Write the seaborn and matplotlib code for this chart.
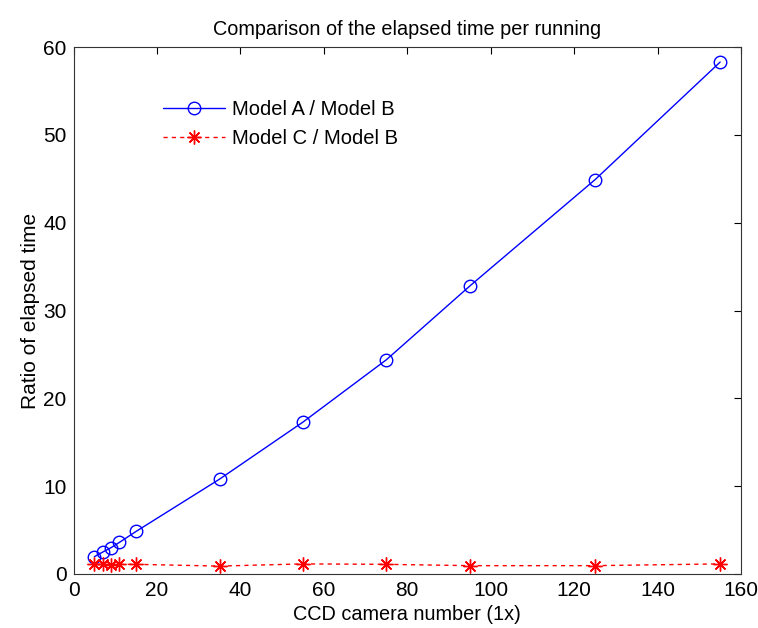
import matplotlib
matplotlib.use("Agg")
import matplotlib.pyplot as plt
import seaborn as sns
import pandas as pd

# Number of CCD cameras and elapsed-time ratios
cameras = [5, 7, 9, 11, 15, 35, 55, 75, 95, 125, 155]
ratio_a_b = [1.97, 2.5, 3.0, 3.6, 4.85, 10.8, 17.3, 24.4, 32.8, 44.9, 58.3]
ratio_c_b = [1.1, 1.1, 1.05, 1.1, 1.1, 0.9, 1.15, 1.1, 0.95, 0.95, 1.15]
series_names = ["Model A / Model B", "Model C / Model B"]

sns.set_style("white")
plt.rcParams["font.family"] = ["Liberation Sans", "DejaVu Sans"]
plt.rcParams["text.color"] = "black"
plt.rcParams["axes.labelcolor"] = "black"

df = pd.DataFrame({
    "cameras": cameras * 2,
    "ratio": ratio_a_b + ratio_c_b,
    "series": [series_names[0]] * len(cameras) + [series_names[1]] * len(cameras),
})

fig = plt.figure(figsize=(7.58, 6.28), dpi=100)
ax = fig.add_axes([0.097, 0.086, 0.8806, 0.839])

sns.lineplot(
    data=df, x="cameras", y="ratio", hue="series", style="series",
    palette={series_names[0]: "blue", series_names[1]: "red"},
    dashes={series_names[0]: "", series_names[1]: (3, 3)},
    markers={series_names[0]: "o", series_names[1]: "*"},
    ax=ax, linewidth=1.0, markersize=9, legend=False,
)
# open circles for A/B, eight-spoke asterisks for C/B
asterisk = (8, 2, 0)
ax.lines[1].set_marker(asterisk)
for line, col, mfc in zip(ax.lines, ["blue", "red"], ["none", "red"]):
    line.set_markerfacecolor(mfc)
    line.set_markeredgecolor(col)
    line.set_markeredgewidth(1.0)
ax.lines[0].set_markersize(9)
ax.lines[1].set_markersize(10)

ax.set_xlim(0, 160)
ax.set_ylim(0, 60)
ax.set_xticks(range(0, 161, 20))
ax.set_yticks(range(0, 61, 10))
ax.tick_params(direction="in", top=True, right=True, length=5, width=0.8,
               labelsize=15, colors="black", pad=5)
for s in ax.spines.values():
    s.set_visible(True)
    s.set_color("#333333")
    s.set_linewidth(0.8)

ax.set_title("Comparison of the elapsed time per running", fontsize=14.3, pad=9)
ax.set_xlabel("CCD camera number (1x)", fontsize=14.3, labelpad=4)
ax.set_ylabel("Ratio of elapsed time", fontsize=15, labelpad=2)

handles = ax.lines[:2]
ax.legend(handles, series_names, loc="upper left", bbox_to_anchor=(0.134, 0.899),
          frameon=False, fontsize=14.5, handlelength=3.1, handletextpad=0.35,
          labelspacing=0.5, borderaxespad=0, borderpad=0)

fig.savefig("out.png", dpi=100)
